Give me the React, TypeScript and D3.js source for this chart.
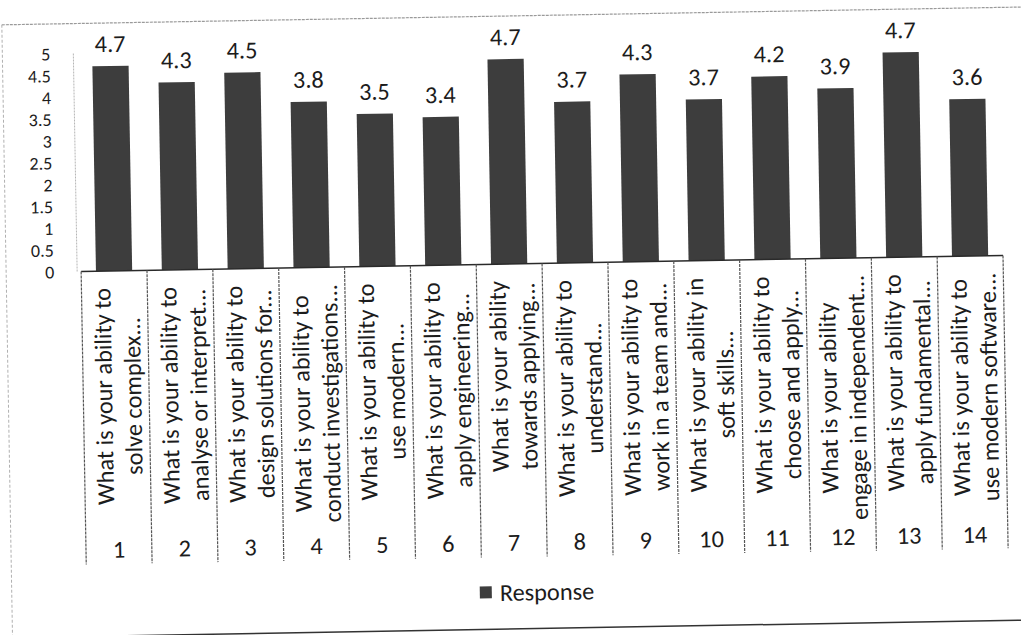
import React, { useEffect, useRef } from 'react';
import * as d3 from 'd3';

const categories = ['1', '2', '3', '4', '5', '6', '7', '8', '9', '10', '11', '12', '13', '14'];
const questionLine1 = [
  'What is your ability to',
  'What is your ability to',
  'What is your ability to',
  'What is your ability to',
  'What is your ability to',
  'What is your ability to',
  'What is your ability',
  'What is your ability to',
  'What is your ability to',
  'What is your ability in',
  'What is your ability to',
  'What is your ability',
  'What is your ability to',
  'What is your ability to',
];
const questionLine2 = [
  'solve complex...',
  'analyse or interpret...',
  'design solutions for...',
  'conduct investigations...',
  'use modern...',
  'apply engineering...',
  'towards applying...',
  'understand...',
  'work in a team and...',
  'soft skills...',
  'choose and apply...',
  'engage in independent...',
  'apply fundamental...',
  'use modern software...',
];
const responses = [4.7, 4.3, 4.5, 3.8, 3.5, 3.4, 4.7, 3.7, 4.3, 3.7, 4.2, 3.9, 4.7, 3.6];
const yTicks = [0, 0.5, 1, 1.5, 2, 2.5, 3, 3.5, 4, 4.5, 5];
const yTickLabels = ['0', '0.5', '1', '1.5', '2', '2.5', '3', '3.5', '4', '4.5', '5'];
const seriesName = 'Response';

export default function App() {
  const ref = useRef<SVGSVGElement>(null);

  useEffect(() => {
    const svg = d3.select(ref.current);
    svg.selectAll('*').remove();
    const font = 'Carlito, Calibri, Lato, "Open Sans", sans-serif';
    const ink = '#1c1c1c';
    const barFill = '#3d3d3d';

    // measure font to emulate Calibri widths
    const probe = svg.append('text').attr('font-family', font).attr('font-size', 100).text('What is your ability to');
    const w100 = (probe.node() as SVGTextElement).getComputedTextLength() || 900;
    probe.remove();
    const fs = Math.min(26, (100 * 217) / w100);
    const tickFs = 18;

    const root = svg.append('g').attr('transform', 'rotate(-1 510 317)');

    // chart area border
    root.append('line').attr('x1', 7).attr('x2', 1040).attr('y1', 16).attr('y2', 16)
      .attr('stroke', '#9a9a9a').attr('stroke-width', 1.2).attr('stroke-dasharray', '3,1');
    root.append('line').attr('x1', 7).attr('x2', 7).attr('y1', 16).attr('y2', 629)
      .attr('stroke', '#b0b0b0').attr('stroke-width', 1).attr('stroke-dasharray', '3,2');
    root.append('line').attr('x1', 7).attr('x2', 1040).attr('y1', 629).attr('y2', 629)
      .attr('stroke', '#333').attr('stroke-width', 1.5);

    const x = d3.scaleBand<string>().domain(categories).range([82, 1004]).paddingInner(0).paddingOuter(0);
    const y = d3.scaleLinear().domain([0, 5]).range([264, 46]);
    const bw = x.bandwidth();
    const barW = bw * 0.55;

    // y axis line (faint)
    root.append('line').attr('x1', 78).attr('x2', 78).attr('y1', y(5)).attr('y2', y(0))
      .attr('stroke', '#b5b5b5').attr('stroke-width', 1).attr('stroke-dasharray', '2,1');

    // y tick labels
    root.append('g').selectAll('text').data(yTicks).join('text')
      .attr('x', 55).attr('y', (d) => y(d)).attr('dy', '0.36em')
      .attr('text-anchor', 'end').attr('font-family', font).attr('font-size', tickFs)
      .attr('fill', ink).text((d, i) => yTickLabels[i]);

    // bars
    root.append('g').selectAll('rect').data(responses).join('rect')
      .attr('x', (d, i) => (x(categories[i]) as number) + (bw - barW) / 2)
      .attr('y', (d) => y(d))
      .attr('width', barW)
      .attr('height', (d) => y(0) - y(d))
      .attr('fill', barFill);

    // value labels
    root.append('g').selectAll('text').data(responses).join('text')
      .attr('x', (d, i) => (x(categories[i]) as number) + bw / 2)
      .attr('y', (d) => y(d) - 14)
      .attr('text-anchor', 'middle').attr('font-family', font).attr('font-size', fs)
      .attr('fill', ink).text((d) => d3.format('.1f')(d));

    // category axis line and separators
    root.append('line').attr('x1', 82).attr('x2', 1004).attr('y1', y(0)).attr('y2', y(0))
      .attr('stroke', '#2a2a2a').attr('stroke-width', 1.5);
    const seps = d3.range(categories.length + 1).map((i) => 82 + i * bw);
    root.append('g').selectAll('line').data(seps).join('line')
      .attr('x1', (d) => d).attr('x2', (d) => d).attr('y1', y(0)).attr('y2', 557)
      .attr('stroke', '#555').attr('stroke-width', 1.2).attr('stroke-dasharray', '3,1');

    // category question labels (rotated)
    const topY = 281;
    categories.forEach((c, i) => {
      const cx = (x(c) as number) + bw / 2;
      const g = root.append('g').attr('transform', `translate(${cx},${topY}) rotate(-90)`);
      const t1 = g.append('text').attr('font-family', font).attr('font-size', fs).attr('fill', ink)
        .attr('text-anchor', 'middle').attr('y', -4).text(questionLine1[i]);
      const t2 = g.append('text').attr('font-family', font).attr('font-size', fs).attr('fill', ink)
        .attr('text-anchor', 'middle').attr('y', 25).text(questionLine2[i]);
      const w1 = (t1.node() as SVGTextElement).getComputedTextLength();
      const w2 = (t2.node() as SVGTextElement).getComputedTextLength();
      const maxW = Math.max(w1, w2);
      t1.attr('x', -maxW / 2);
      t2.attr('x', -maxW / 2);
    });

    // category numbers
    root.append('g').selectAll('text').data(categories).join('text')
      .attr('x', (d) => (x(d) as number) + bw / 2).attr('y', 542).attr('dy', '0.36em')
      .attr('text-anchor', 'middle').attr('font-family', font).attr('font-size', fs)
      .attr('fill', ink).text((d) => d);

    // legend
    const leg = root.append('g').attr('transform', 'translate(475,592)');
    leg.append('rect').attr('x', 0).attr('y', -6).attr('width', 12).attr('height', 12).attr('fill', barFill);
    leg.append('text').attr('x', 20).attr('y', 0).attr('dy', '0.36em')
      .attr('font-family', font).attr('font-size', fs).attr('fill', ink).text(seriesName);
  }, []);

  return (
    <svg
      ref={ref}
      width={1021}
      height={635}
      style={{ position: 'absolute', left: 0, top: 0, background: '#fff' }}
    />
  );
}
